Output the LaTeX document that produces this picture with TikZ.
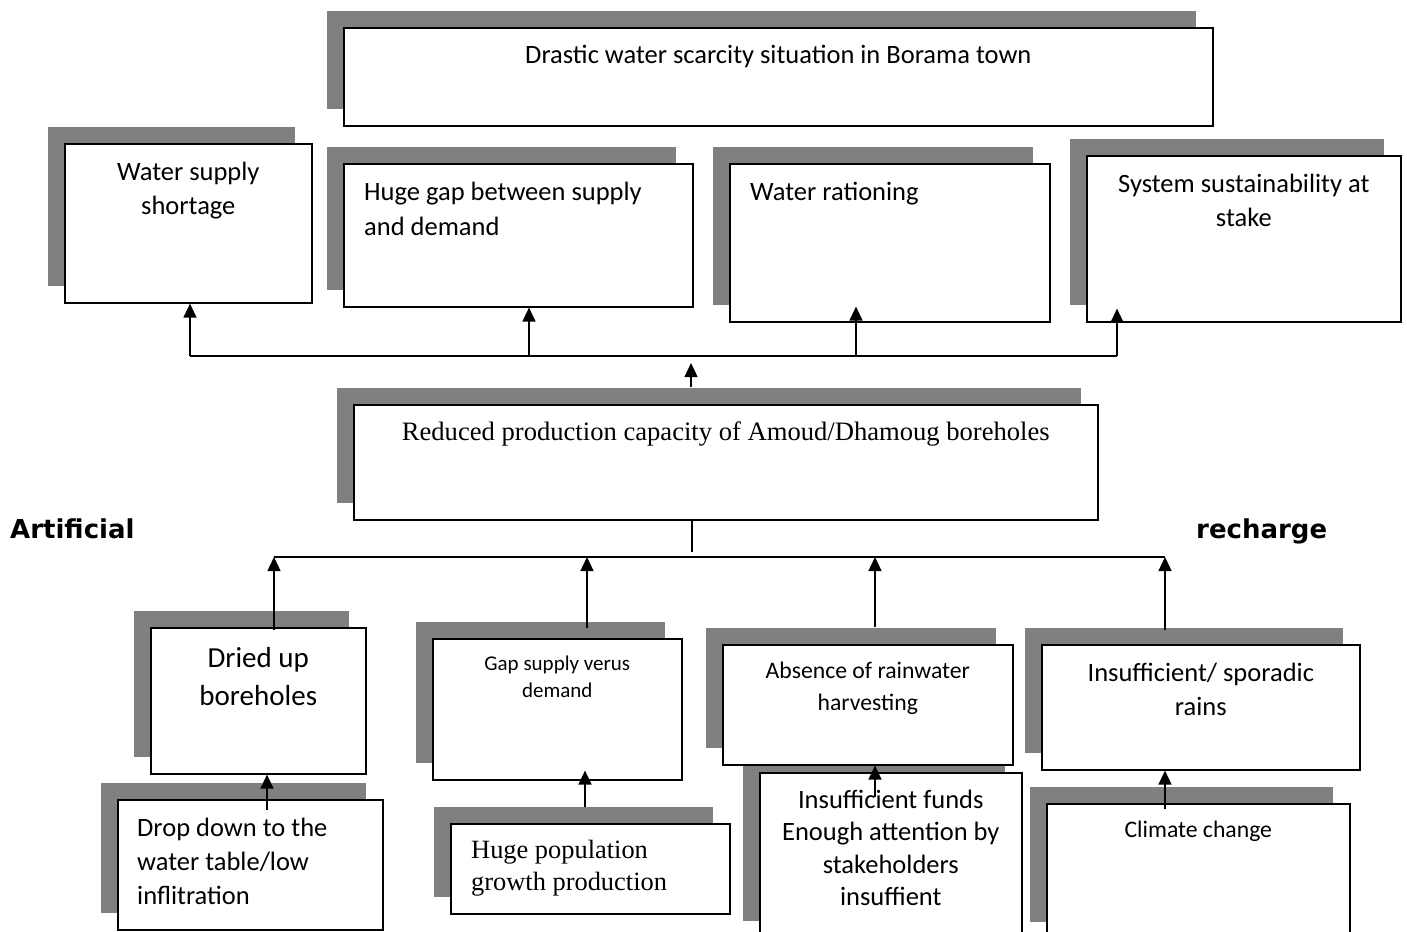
\documentclass[tikz,border=0pt]{standalone}
\usepackage{fontspec}
\setmainfont{Carlito}
\newfontfamily\timesf{Liberation Serif}
\newfontfamily\headf{DejaVu Sans}
\usetikzlibrary{shadows,arrows.meta,calc}
\definecolor{shadowgray}{RGB}{128,128,128}
\newcommand\st{\rule{0pt}{22pt}}
\begin{document}
\begin{tikzpicture}[x=1pt,y=-1pt,
  wbox/.style={draw=black, line width=1.6pt, fill=white, inner sep=0pt,
    anchor=north west,
    general shadow={fill=shadowgray, shadow xshift=-17pt, shadow yshift=17pt}},
  txt/.style={inner sep=0pt, align=center, font=\fontsize{26.5}{34.5}\selectfont},
  ltxt/.style={inner sep=0pt, align=left, font=\fontsize{26.5}{34.5}\selectfont},
  ln/.style={line width=1.4pt},
  arr/.style={line width=1.4pt, -{Triangle[width=13pt,length=14pt]}},
  side/.style={inner sep=0pt, anchor=base west, font=\headf\bfseries\fontsize{26}{30}\selectfont}
]
\clip (0,0) rectangle (1407,931);
\fill[white] (0,0) rectangle (1407,931);

% top box
\node[wbox, minimum width=869pt, minimum height=98pt,
  label={[txt,anchor=north,yshift=-14pt]north:{\st Drastic water scarcity situation in Borama town}}]
  (T) at (343,27) {};

% consequences row
\node[wbox, minimum width=247pt, minimum height=159pt,
  label={[txt,anchor=north,yshift=-15pt,font=\fontsize{26.5}{34}\selectfont]north:{\st Water supply\\shortage}}]
  (A) at (64,143) {};
\node[wbox, minimum width=349pt, minimum height=143pt,
  label={[ltxt,anchor=north west,xshift=21pt,yshift=-15pt,font=\fontsize{26.5}{35}\selectfont]north west:{\st Huge gap between supply\\and demand}}]
  (B) at (343,163) {};
\node[wbox, minimum width=320pt, minimum height=158pt,
  label={[ltxt,anchor=north west,xshift=21pt,yshift=-15pt]north west:{\st Water rationing}}]
  (C) at (729,163) {};
\node[wbox, minimum width=314pt, minimum height=166pt,
  label={[txt,anchor=north,yshift=-15.7pt,font=\fontsize{26.5}{34}\selectfont]north:{\st System sustainability at\\stake}}]
  (D) at (1086,155) {};

% core problem
\node[wbox, minimum width=744pt, minimum height=115pt,
  label={[txt,anchor=north,yshift=-14pt,font=\timesf\fontsize{26.6}{32}\selectfont]north:{\st Reduced production capacity of Amoud/Dhamoug boreholes}}]
  (R) at (353,404) {};

% side texts
\node[side] (art) at (10,538) {Artificial};
\node[side] (rec) at (1196,538) {recharge};

% causes row
\node[wbox, minimum width=215pt, minimum height=146pt,
  label={[txt,anchor=north,yshift=-18pt,font=\fontsize{29}{38.3}\selectfont]north:{\st Dried up\\boreholes}}]
  (E) at (150,627) {};
\node[wbox, minimum width=249pt, minimum height=141pt,
  label={[txt,anchor=north,yshift=-12.7pt,font=\fontsize{21}{27}\selectfont]north:{\rule{0pt}{20pt}Gap supply verus\\demand}}]
  (G) at (432,638) {};
\node[wbox, minimum width=262pt, minimum height=165pt,
  label={[txt,anchor=north,yshift=-14.3pt,font=\fontsize{26.5}{32.3}\selectfont]north:{\st Insufficient funds\\Enough attention by\\stakeholders\\insuffient}}]
  (J) at (759,772) {};
\node[wbox, minimum width=290pt, minimum height=120pt,
  label={[txt,anchor=north,yshift=-12.5pt,font=\fontsize{23.7}{31.7}\selectfont]north:{\st Absence of rainwater\\harvesting}}]
  (I) at (722,644) {};
\node[wbox, minimum width=318pt, minimum height=125pt,
  label={[txt,anchor=north,yshift=-15pt,font=\fontsize{26.5}{34}\selectfont]north:{\st Insufficient/ sporadic\\rains}}]
  (K) at (1041,644) {};

% root causes row
\node[wbox, minimum width=265pt, minimum height=130pt,
  label={[ltxt,anchor=north west,xshift=20pt,yshift=-15.7pt,font=\fontsize{26.5}{34}\selectfont]north west:{\st Drop down to the\\water table/low\\inflitration}}]
  (F) at (117,799) {};
\node[wbox, minimum width=279pt, minimum height=90pt,
  label={[ltxt,anchor=north west,xshift=21pt,yshift=-13pt,font=\timesf\fontsize{26.4}{32.3}\selectfont]north west:{\st Huge population\\growth production}}]
  (H) at (450,823) {};
\node[wbox, minimum width=303pt, minimum height=135pt,
  label={[txt,anchor=north,yshift=-12pt,font=\fontsize{23.7}{31.7}\selectfont]north:{\st Climate change}}]
  (L) at (1046,803) {};

% upper bus
\coordinate (busL) at (190,356);
\coordinate (bB) at (529,356);
\coordinate (bC) at (856,356);
\coordinate (busR) at (1117,356);
\coordinate (tipM) at (691,363);
\draw[ln] (busL) -- (busR);
\draw[arr] (busL) -- (busL |- A.south);
\draw[arr] (bB) -- (bB |- B.south);
\draw[arr] (bC) -- ($(bC |- C.south)+(0,-16)$);
\draw[arr] (busR) -- ($(busR |- D.south)+(0,-14)$);
\draw[arr] ($(tipM |- R.north)+(0,-17)$) -- (tipM);

% lower bus
\coordinate (lbL) at (274,557);
\coordinate (lbG) at (587,557);
\coordinate (lbI) at (875,557);
\coordinate (lbR) at (1165,557);
\coordinate (lbM) at (692,552);
\draw[ln] (lbL) -- (lbR);
\draw[ln] (R.south -| lbM) -- (lbM);
\draw[arr] ($(lbL |- E.north)+(0,3)$) -- (lbL);
\draw[arr] ($(lbG |- G.north)+(0,-10)$) -- (lbG);
\draw[arr] ($(lbI |- I.north)+(0,-17)$) -- (lbI);
\draw[arr] ($(lbR |- K.north)+(0,-14)$) -- (lbR);

% root cause arrows
\coordinate (fe) at (267,810);
\coordinate (hg) at (585,807);
\coordinate (ji) at (875,797);
\coordinate (lk) at (1165,809);
\draw[arr] (fe) -- (fe |- E.south);
\draw[arr] (hg) -- ($(hg |- G.south)+(0,-10)$);
\draw[arr] (ji) -- (ji |- I.south);
\draw[arr] (lk) -- (lk |- K.south);
\end{tikzpicture}
\end{document}
